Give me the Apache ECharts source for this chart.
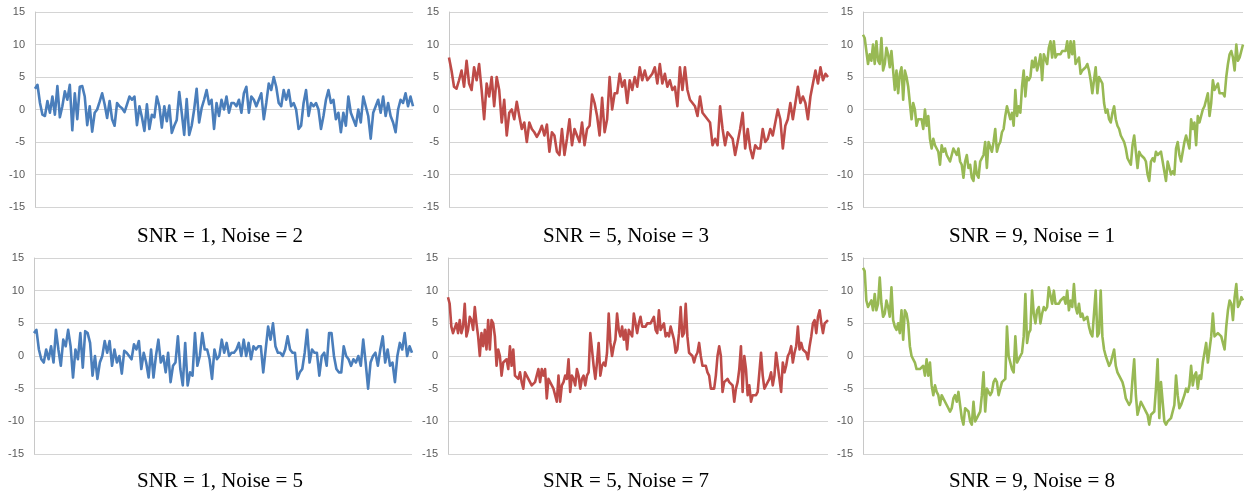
<!DOCTYPE html>
<html>
<head>
<meta charset="utf-8">
<script src="https://cdn.jsdelivr.net/npm/echarts@6/dist/echarts.min.js"></script>
<style>
html,body{margin:0;padding:0;background:#fff;}
#chart{width:1253px;height:495px;}
</style>
</head>
<body>
<div id="chart"></div>
<script>
// Panel titles
const panelTitles = [
  "SNR = 1, Noise = 2", "SNR = 5, Noise = 3", "SNR = 9, Noise = 1",
  "SNR = 1, Noise = 5", "SNR = 5, Noise = 7", "SNR = 9, Noise = 8"
];
// Y tick labels (value axis -15..15 step 5)
const yMin = -15, yMax = 15, yStep = 5;

// Series values
const snr1noise2 = [3.2,3.8,1,-0.8,-1,1.3,-0.5,2,-0.8,3.6,-1.2,0.5,2.8,1.5,3.8,-3.2,2.5,-1.5,3.5,3.6,2,-2.4,0.5,-3.4,-0.5,0,1.2,2.5,0.8,-1.3,1.3,-1.5,-2.5,1,0.5,0.2,-0.4,0.8,2,1.5,2,-2.4,0.5,-1.2,-3.3,0.8,-3,-0.8,-1.2,2,0.5,-2.8,0.5,-1.8,0.6,-3.6,-2.5,-1.6,2.7,-0.5,-3.9,1.6,-3.9,-2.5,0,3.2,-2,0.2,1.5,3,0.8,1.5,-3,1,
  -1,1.5,0,2,-0.5,1,1,0.5,1.5,-0.5,2.5,3.5,-0.5,2,1.5,0.5,1.5,2.5,-1.5,1,4,3,5,3.5,1,0.5,3,1.5,3,0.5,1,0,-3,-2.5,1,3,-1,1,0.5,1,0,-3,-1,1.5,3,1,1.5,-1.5,-0.5,-3.5,-0.5,-2.5,2,-0.5,-1.5,-2.5,0,-2,2,0.5,-1,-4.5,-0.5,0.5,1.5,-0.5,2,-1,1,-1,-2,-3.5,0,1.5,1,2.5,0.5,2,0.5];

const snr5noise3 = [8,6,3.5,3.2,4.5,6,3.5,7.5,4,3,6.5,4.5,7,3,-1.5,4,2,5,0.5,5,3,-2,1.5,-4,-0.5,0,-1.5,1.2,-1,-3,-2,-5,-2,-3,-3.5,-4.2,-3.5,-2.5,-4,-2.3,-6.5,-3.5,-4,-6.5,-7,-3,-7,-4.5,-1.5,-5.5,-3,-4,-5,-2,-5.5,-3,-2.5,2.3,1,-1,-4,1.8,-3.5,-1.5,5,0,2.5,2.5,5.5,3.5,4.5,1,4.5,3,
  5,3.5,6.5,4.5,6,4.5,5,5.5,6.5,4,7,4,5.5,3.5,4.5,3,3.5,0.5,6.5,3,6.5,3,1.5,1,0.5,-1,2,-0.5,-1,-1.5,-2,-5.5,-4.5,-5.5,0.5,-3,-5.5,-3.5,-4,-4.5,-7,-5,-3,-0.5,-6,-3,-6,-7.5,-5.5,-6,-6,-3,-5,-4.5,-3,-4,-2,0,-1.5,-6,-2.5,-1.5,1,-1.5,1,3.5,1,2,1,-1.5,2,4,6,4,6.5,4.5,5.5,5];

const snr9noise1 = [11.5,11,9,7,8.5,7.5,10,7,10.5,7.5,7,11,6,7,9.5,8.5,6.5,9,6,3,6,2.5,5.5,6.5,1.5,6,5,3.5,1,-1.5,1,0,-2.5,-1.5,-1.5,-1.5,-3,0,-2.5,-1,-4.5,-6,-4.5,-5.5,-6,-6.5,-8.5,-5.5,-6.5,-6,-7,-7.5,-8,-8,-6,-6.5,-7,-6,-8,-8.5,-10.5,-8,-7,-9,-8.5,-10.5,-11,-8,-10,-10.5,-8,-7.5,-7,-5,-9,-5,-5,-6.5,-5,-3,-6.5,-5.5,-5,-3.5,-3,-1,0.5,-0.5,-1.5,-0.5,-2.5,3,-1,0.5,-0.5,3.5,6,2,5,4.5,5,7.5,6.5,8,6,7,8.5,4.5,8.5,8.5,7,9.5,10.5,
  8,10.5,8,8.5,8.5,8.5,9,9,9,10.5,8,10.5,8.5,10.5,7,7,8,5.5,6,6,6.5,7,6,4.5,2.5,4.5,6.5,2.5,5,5,4,1,-0.5,0,-1.5,-2,-0.5,0.5,-1.5,-2.5,-3,-4,-4,-5,-6,-7.5,-8,-8.5,-5.5,-4,-4,-9,-6.5,-7,-7,-7.5,-8,-10,-11,-8,-7.5,-8,-6.5,-7,-7,-6.5,-8,-9.5,-11,-8,-9,-10,-9.5,-10,-6,-5,-7,-8,-6.5,-5,-4,-5,-6,-1.5,-3,-2,-5.5,-1,-2,-2,0,0.5,0.5,2.5,-1,1,4.5,3,3,4,2.5,2.5,2.5,2,5,7,8.5,9,8,6,10,7.5,8,9,10];

const snr1noise5 = [3.5,4,1,-0.5,-1,1,-0.5,1.5,-1,4,1,-1.5,2.5,1.5,4,1.5,-3.3,1,-0.5,3.5,-1.8,3.8,3.5,2,-3,0,-3.5,-1,0,2.3,0.5,2.3,-1.5,1,-1,0,-2.7,0.8,0.5,0,-0.5,1.8,1,2.3,-2,0.5,-1,-3.3,1,-3.3,0,2.5,-1,0,-2.5,0.5,-4,-1.5,-1,3,-2,-4.5,2,-4.5,-2.5,-3,3.5,-1.5,0,3.5,1,1,-0.5,-3.5,1,-0.5,
  0,2.5,0.5,2,0,0.5,0.5,1,2,0,2.5,0,2,-0.5,1.5,1,1.5,1.5,-2.5,1,4.5,2.5,5,1.5,0.5,0.5,0,1,3,1,0.5,0.5,-3.5,-2.5,-2,0.5,4,-1,1,0.5,0.5,-3,0,0.5,-1.5,3.5,3.5,0,-2,-2.5,-2.5,1.5,0,-0.5,-1.5,-0.5,-1,0,-1.5,2.5,-1,-5,-1,0,0.5,-1.5,1,3,-1,1,-1.5,-1,-4,0,2,1,3.5,0,1.5,0.5];

const snr5noise7 = [9,8,4.5,3.5,3.5,5,3.5,5.5,3.5,4.5,8,3,4,6,5.5,4,7.5,5,3,0,3.5,1.5,4,1,5.5,1,5.5,5,3,-1.5,1,0,-3,-1,-1,-0.5,-2,1.5,-1.5,1,-3,-3,-3.5,-2.5,-4,-5,-2.5,-3,-3.5,-4,-4.5,-4.5,-4,-3,-2,-4,-2,-3,-2,-6.5,-3.5,-4,-4,-5,-6,-7,-3,-7,-4.5,-4,-3,-3.5,-0.5,-5.5,-3,-3.5,-4.5,-2,-3,-5,-3.5,-3,-4.5,-3,-2.5,3.5,1,-1.5,-3.5,-1,2,-3,-1.5,-1,-1.5,0.5,6.5,2,0,1.5,2.5,6.5,4,3,4.5,2.5,4,1,4,3.5,3,6.5,
  6.5,3.5,5,6,4.5,4.5,4.5,5,5,5,5,6,4,3.5,7,4,4,5,3,3.5,3,4.5,3.5,2.5,0.5,1,3.5,7.5,3,3.5,8,3,0.5,0.5,0,-1,0,0.5,2,0,-1.5,-1.5,-1.5,-2.5,-3,-5,-5,-5,-3,0,1.5,0,-5.5,-4,-4,-3.5,-4,-4,-4.5,-7,-5,-4,-2,1.5,-5.5,0,-2,-6,-4.5,-7,-6,-6,-6,-5.5,-2.5,0.5,-3,-5,-5,-4,-3.5,-2.5,-4.5,-3,0.5,-1.5,-1.5,-5.5,-1,-2.5,-1.5,0,0.5,1.5,-1,0.5,1.5,4.5,1,2,1,1,0.5,-0.5,1.5,3,5,5.5,3.5,6,7,5,3.5,5,5,5.5];

const snr9noise8 = [13.5,13,8.5,7.5,7.5,8.5,7,9.5,7,8,12,8,6,6.5,8.5,7.5,6,10.5,5.5,4.5,4,5,3.5,7,2.5,7,6.5,5,1.5,0,0,-1,-2,-2,-2,-2,-1.5,-3,-0.5,-3,-1,-4.5,-6,-4.5,-5.5,-6,-7.5,-6,-6,-7,-7.5,-8,-8.5,-8,-6.5,-6,-7,-5.5,-5.5,-9.5,-10.5,-8,-8,-8.5,-10,-10.5,-7,-10,-9.5,-9,-8.5,-6,-2.5,-8.5,-5,-5.5,-6,-5.5,-4,-3.5,-4,-6,-5,-4,-4,-3.5,4.5,0,-1,-2,-2.5,3,-1,-0.5,0,0.5,3,9.5,2,3.5,4,10,6.5,5,7,7.5,5,6.5,7.5,7,7.5,10.5,
  10.5,8,10,8,8,8,8.5,8.5,9,8,10,7,8.5,7.5,11,7.5,6.5,8,6,6.5,5.5,5.5,6,4.5,3.5,3,3,10,3,3.5,10,3,1,0,0,-1.5,-1,0,1,-1.5,-2.5,-3,-3.5,-4,-5,-6.5,-7,-7.5,-7,-3.5,-0.5,-6,-9,-8,-7,-7,-8,-8.5,-9,-10.5,-9,-9,-8.5,-5,-0.5,-9.5,-4,-7,-10,-10.5,-10,-10,-9.5,-9.5,-7.5,-3,-6,-8,-7.5,-7.5,-6,-5,-5.5,-4.5,-1.5,-4.5,-3,-2.5,-5,-3,-3.5,-1,0.5,2,-1,1,3,6.5,3,3,3.5,3.5,3,2,1,4.5,7,8.5,8,5.5,9,11,7.5,8,9,8.5];

const seriesList = [snr1noise2, snr5noise3, snr9noise1, snr1noise5, snr5noise7, snr9noise8];
const seriesColors = ['#4A7EBB', '#BE4B48', '#98B954', '#4A7EBB', '#BE4B48', '#98B954'];

const grids = [
  {left: 35, top: 12, width: 378, height: 195},
  {left: 449, top: 12, width: 379, height: 195},
  {left: 863, top: 12, width: 380, height: 195},
  {left: 34, top: 258, width: 378, height: 196},
  {left: 448, top: 258, width: 380, height: 196},
  {left: 863, top: 258, width: 380, height: 196}
];
const titlePos = [[220, 236], [626, 236], [1032, 236], [220, 481], [626, 481], [1032, 481]];

const chart = echarts.init(document.getElementById('chart'), null, {renderer: 'canvas'});
const option = {
  animation: false,
  backgroundColor: '#ffffff',
  grid: grids.map(g => Object.assign({containLabel: false}, g)),
  xAxis: seriesList.map((s, i) => ({
    type: 'category',
    gridIndex: i,
    boundaryGap: false,
    data: s.map((_, k) => String(k + 1)),
    axisLine: {show: false},
    axisTick: {show: false},
    axisLabel: {show: false},
    splitLine: {show: false}
  })),
  yAxis: seriesList.map((s, i) => ({
    type: 'value',
    gridIndex: i,
    min: yMin, max: yMax, interval: yStep,
    axisLine: {show: true, lineStyle: {color: '#c8c8c8', width: 1}},
    axisTick: {show: false},
    axisLabel: {color: '#595959', fontSize: 11, fontFamily: 'Liberation Sans', margin: 10},
    splitLine: {show: true, lineStyle: {color: '#d4d4d4', width: 1}}
  })),
  series: seriesList.map((s, i) => ({
    type: 'line',
    xAxisIndex: i,
    yAxisIndex: i,
    data: s,
    showSymbol: false,
    symbol: 'none',
    lineStyle: {color: seriesColors[i], width: 2.6, join: 'round'},
    itemStyle: {color: seriesColors[i]}
  })),
  graphic: panelTitles.map((t, i) => ({
    type: 'text',
    x: titlePos[i][0],
    y: titlePos[i][1],
    style: {
      text: t,
      font: '21px "Liberation Serif"',
      fontSize: 21,
      fontFamily: 'Liberation Serif',
      fill: '#000000',
      align: 'center',
      verticalAlign: 'middle',
      textAlign: 'center',
      textVerticalAlign: 'middle'
    }
  }))
};
chart.setOption(option);
</script>
</body>
</html>
